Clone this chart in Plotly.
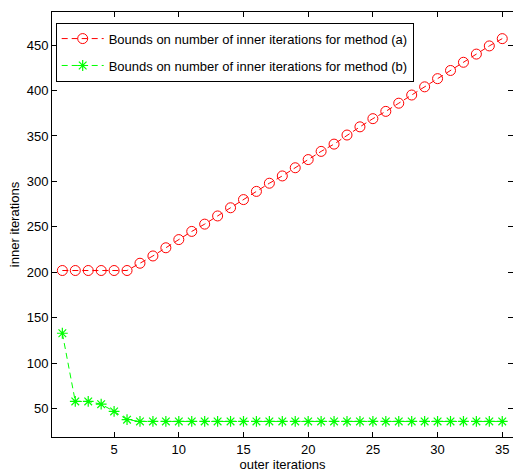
import plotly.graph_objects as go

# Outer iteration index
outer = list(range(1, 36))

# Bounds on inner iterations, method (a)
bounds_a = [202, 202, 202, 202, 202, 202, 210, 218, 227, 236,
            245, 253, 262, 271, 280, 289, 298, 306, 315, 324,
            333, 341, 351, 360, 369, 377, 386, 395, 404, 413,
            422, 431, 440, 449, 457]

# Bounds on inner iterations, method (b)
bounds_b = [133, 58, 58, 55, 47, 38, 36, 36, 36, 36,
            36, 36, 36, 36, 36, 36, 36, 36, 36, 36,
            36, 36, 36, 36, 36, 36, 36, 36, 36, 36,
            36, 36, 36, 36, 36]

x_ticks = [5, 10, 15, 20, 25, 30, 35]
y_ticks = [50, 100, 150, 200, 250, 300, 350, 400, 450]

label_a = "Bounds on number of inner iterations for method (a)"
label_b = "Bounds on number of inner iterations for method (b)"

FONT = "Liberation Sans, Arial, Helvetica, sans-serif"

fig = go.Figure()
fig.add_trace(go.Scatter(
    x=outer, y=bounds_a, name=label_a, mode="lines+markers",
    line=dict(color="#ff0000", width=1, dash="6px,4px"),
    marker=dict(symbol="circle-open", size=10, color="#ff0000",
                line=dict(width=1, color="#ff0000")),
    legendgroup="a",
))
fig.add_trace(go.Scatter(
    x=outer, y=bounds_b, name=label_b, mode="lines+markers",
    line=dict(color="#00ff00", width=1, dash="6px,4px"),
    marker=dict(symbol="asterisk-open", size=9, color="#00ff00",
                line=dict(width=1.2, color="#00ff00")),
    legendgroup="b",
))

axis_common = dict(
    showline=True, linecolor="black", linewidth=1, mirror="allticks",
    ticks="inside", ticklen=5, tickcolor="black", tickwidth=1,
    showgrid=False, zeroline=False,
    tickfont=dict(family=FONT, size=13, color="black"),
)

fig.update_xaxes(
    range=[0.2, 35.83], tickvals=x_ticks,
    title=dict(text="outer iterations", font=dict(family=FONT, size=13, color="black"),
               standoff=2),
    **axis_common,
)
fig.update_yaxes(
    range=[18.9, 486.3], tickvals=y_ticks,
    title=dict(text="inner iterations", font=dict(family=FONT, size=13, color="black"),
               standoff=4),
    **axis_common,
)

fig.update_layout(
    width=513, height=475,
    margin=dict(l=52, r=0, t=12, b=38),
    paper_bgcolor="white", plot_bgcolor="white",
    font=dict(family=FONT, size=13, color="black"),
    showlegend=True,
    legend=dict(
        x=0.008, y=0.975, xanchor="left", yanchor="top",
        bgcolor="white", bordercolor="black", borderwidth=1,
        font=dict(family=FONT, size=13, color="black"),
        tracegroupgap=7, traceorder="grouped", itemwidth=42,
    ),
)

fig.write_html("out.html")
